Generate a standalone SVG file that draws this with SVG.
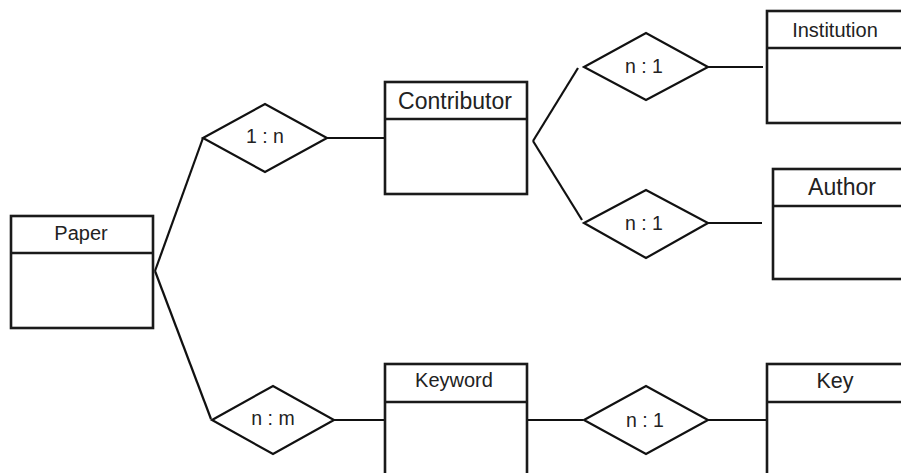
<svg xmlns="http://www.w3.org/2000/svg" width="901" height="473" viewBox="0 0 901 473">
<style>
.box{fill:#fff;stroke:#1a1a1a;stroke-width:2.6}
.div{stroke:#1a1a1a;stroke-width:2.6}
.dia{fill:#fff;stroke:#111;stroke-width:2.2;stroke-linejoin:miter}
.ln{stroke:#111;stroke-width:2.2;fill:none}
text{font-family:"Liberation Sans",Arial,sans-serif;fill:#222;text-anchor:middle}
</style>
<rect width="901" height="473" fill="#fff"/>
<g id="connectors">
<line class="ln" x1="155" y1="271" x2="203" y2="138"/>
<line class="ln" x1="155" y1="271" x2="211" y2="419"/>
<line class="ln" x1="327" y1="138" x2="385" y2="138"/>
<line class="ln" x1="533" y1="141" x2="578" y2="68"/>
<line class="ln" x1="533" y1="141" x2="582" y2="220"/>
<line class="ln" x1="707" y1="67" x2="763" y2="67"/>
<line class="ln" x1="707" y1="223" x2="762" y2="223"/>
<line class="ln" x1="333" y1="420" x2="385" y2="420"/>
<line class="ln" x1="527" y1="420" x2="583" y2="420"/>
<line class="ln" x1="707" y1="420" x2="767" y2="420"/>
</g>
<g id="paper">
<rect class="box" x="11" y="216" width="142" height="112"/>
<line class="div" x1="11" y1="253" x2="153" y2="253"/>
<text x="81" y="240" font-size="20">Paper</text>
</g>
<g id="rel-1n">
<polygon class="dia" points="203,138 265,104 327,138 265,172"/>
<text x="265" y="143" font-size="19.5">1 : n</text>
</g>
<g id="contributor">
<rect class="box" x="385" y="82" width="142" height="112"/>
<line class="div" x1="385" y1="119" x2="527" y2="119"/>
<text x="455" y="109" font-size="23">Contributor</text>
</g>
<g id="rel-n1-inst">
<polygon class="dia" points="584,67 646,33 708,67 646,100"/>
<text x="644" y="73" font-size="19.5">n : 1</text>
</g>
<g id="institution">
<rect class="box" x="767" y="11" width="142" height="112"/>
<line class="div" x1="767" y1="48" x2="909" y2="48"/>
<text x="835" y="37" font-size="20">Institution</text>
</g>
<g id="rel-n1-author">
<polygon class="dia" points="584,223 646,190 708,223 646,258"/>
<text x="644" y="230" font-size="19.5">n : 1</text>
</g>
<g id="author">
<rect class="box" x="773" y="169" width="142" height="110"/>
<line class="div" x1="773" y1="206" x2="915" y2="206"/>
<text x="842" y="195" font-size="23">Author</text>
</g>
<g id="rel-nm">
<polygon class="dia" points="212,420 273,386 334,420 273,454"/>
<text x="273" y="425" font-size="19.5">n : m</text>
</g>
<g id="keyword">
<rect class="box" x="385" y="364" width="142" height="120"/>
<line class="div" x1="385" y1="402" x2="527" y2="402"/>
<text x="454" y="387" font-size="20">Keyword</text>
</g>
<g id="rel-n1-key">
<polygon class="dia" points="584,420 646,386 708,420 646,454"/>
<text x="645" y="427" font-size="19.5">n : 1</text>
</g>
<g id="key">
<rect class="box" x="767" y="364" width="142" height="120"/>
<line class="div" x1="767" y1="402" x2="909" y2="402"/>
<text x="835" y="388" font-size="21.5">Key</text>
</g>
</svg>
